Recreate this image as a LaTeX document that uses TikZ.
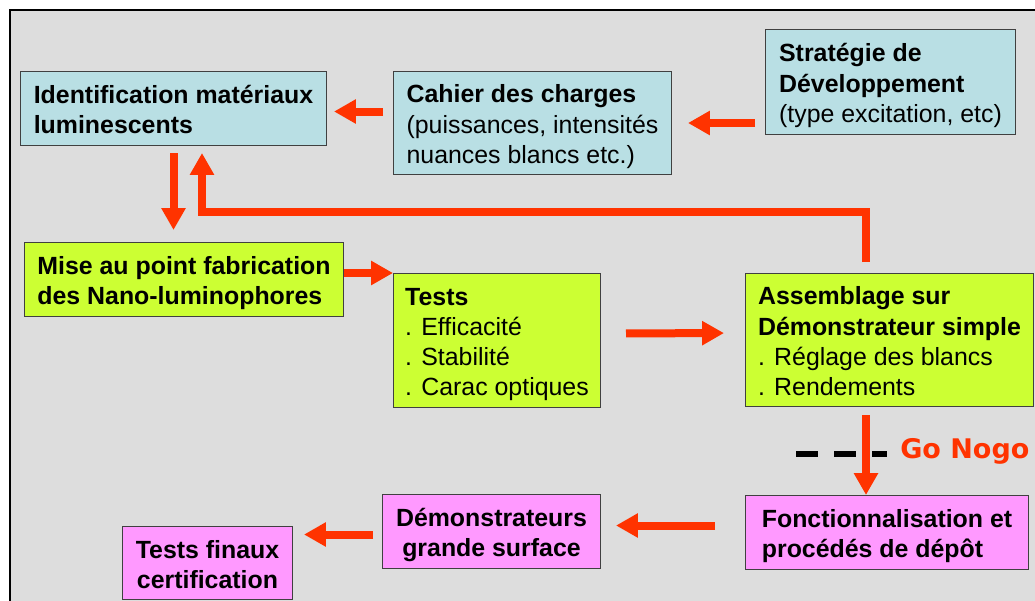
\documentclass[tikz,border=0pt]{standalone}
\usepackage{fontspec}
\setmainfont{Liberation Sans}
\newfontfamily\gofont{DejaVu Sans}
\usetikzlibrary{arrows.meta,calc}
\newlength{\pxu}
\setlength{\pxu}{0.025cm}
\definecolor{boxblue}{RGB}{185,223,228}
\definecolor{boxgreen}{RGB}{204,255,51}
\definecolor{boxpink}{RGB}{255,153,255}
\definecolor{bggrey}{RGB}{221,221,221}
\definecolor{arrowred}{RGB}{255,51,0}
\newcommand{\boxfont}{\fontsize{17.7pt}{21.34pt}\selectfont}
\newcommand{\topstrut}{\rule{0pt}{26\pxu}}
\newcommand{\botstrut}{\rule[-6\pxu]{0pt}{6\pxu}}
\tikzset{
    flow-box/.style = {draw=black!75, line width=1\pxu, rectangle, anchor=north west, align=left, inner xsep=6\pxu, inner ysep=0pt, font=\boxfont},
    blue-box/.style = {flow-box, fill=boxblue},
    green-box/.style = {flow-box, fill=boxgreen},
    pink-box/.style = {flow-box, fill=boxpink},
    red-arrow/.style = {draw=arrowred, line width=8\pxu, -{Triangle[width=16.4pt,length=15.6pt]}},
    go-dash/.style = {draw=black, line width=6\pxu, dash pattern=on 22\pxu off 16\pxu},
}

\begin{document}
\begin{tikzpicture}[x=0.025cm, y=-0.025cm]
\useasboundingbox (0,0) rectangle (1035,600);
\fill[bggrey] (10,10) rectangle (1040,605);
\draw[line width=1.5\pxu] (1040,10) -- (10,10) -- (10,605);

\node[blue-box, minimum width=306\pxu, minimum height=74\pxu] (ident) at (20,71) {\topstrut\textbf{Identification matériaux}\\\textbf{luminescents}\botstrut};
\node[blue-box, minimum width=278\pxu, minimum height=103\pxu] (cahier) at (393,71) {\topstrut\textbf{Cahier des charges}\\(puissances, intensités\\nuances blancs etc.)\botstrut};
\node[blue-box, minimum width=250\pxu, minimum height=105\pxu] (strat) at (765,29) {\topstrut\textbf{Stratégie de}\\\textbf{Développement}\\(type excitation, etc)\botstrut};
\node[green-box, minimum width=319\pxu, minimum height=74\pxu] (mise) at (24,242) {\topstrut\textbf{Mise au point fabrication}\\\textbf{des Nano-luminophores}\botstrut};
\node[green-box, minimum width=207\pxu, minimum height=134\pxu] (tests) at (393,273) {\topstrut\textbf{Tests}\\. Efficacité\\. Stabilité\\. Carac optiques\botstrut};
\node[green-box, minimum width=288\pxu, minimum height=133\pxu] (assem) at (745,273) {\topstrut\textbf{Assemblage sur}\\\textbf{Démonstrateur simple}\\. Réglage des blancs\\. Rendements\botstrut};
\node[pink-box, minimum width=283\pxu, minimum height=74\pxu] (fonct) at (745,495) {\topstrut\textbf{Fonctionnalisation et}\\\textbf{procédés de dépôt}\botstrut};
\node[pink-box, align=center, minimum width=218\pxu, minimum height=74\pxu] (demo) at (382,494) {\topstrut\textbf{Démonstrateurs}\\\textbf{grande surface}\botstrut};
\node[pink-box, align=center, minimum width=170\pxu, minimum height=73\pxu] (final) at (122,526) {\topstrut\textbf{Tests finaux}\\\textbf{certification}\botstrut};

\node[text=arrowred, font=\gofont\bfseries\fontsize{19.2pt}{23pt}\selectfont, inner sep=0pt, anchor=base west] (gonogo) at (900,458) {Go Nogo};
\coordinate (dash-start) at (796,454);
\coordinate (turn) at (202,212);

\draw[go-dash, shorten >=13\pxu] (dash-start) -- (dash-start -| gonogo.west);
\draw[red-arrow, shorten <=10\pxu, shorten >=7\pxu] ($(ident.east -| cahier.west)+(0,3)$) -- ($(ident.east)+(0,3)$);
\draw[red-arrow, shorten <=10\pxu, shorten >=16\pxu] (cahier.east -| strat.west) -- (cahier.east);
\draw[red-arrow, shorten <=7\pxu, shorten >=12\pxu] (ident.south) -- (ident.south |- mise.north);
\draw[red-arrow, shorten <=11\pxu, shorten >=7\pxu] ([xshift=121\pxu]assem.north west) |- (turn) -- (turn |- ident.south);
\draw[red-arrow] (tests.north west -| mise.east) -- (tests.north west);
\draw[red-arrow, shorten <=25\pxu, shorten >=21\pxu] ([yshift=7\pxu]tests.east) -- ([yshift=7\pxu]assem.west);
\draw[red-arrow, shorten <=8\pxu] ([xshift=121\pxu]assem.south west) -- ([xshift=121\pxu]fonct.north west);
\draw[red-arrow, shorten <=30\pxu, shorten >=15\pxu] ([yshift=7\pxu]fonct.west) -- ($(fonct.west -| demo.east)+(0,-7)$);
\draw[red-arrow, shorten <=9\pxu, shorten >=11\pxu] ([yshift=-3\pxu]demo.west) -- ($(demo.west -| final.east)+(0,3)$);
\end{tikzpicture}
\end{document}
